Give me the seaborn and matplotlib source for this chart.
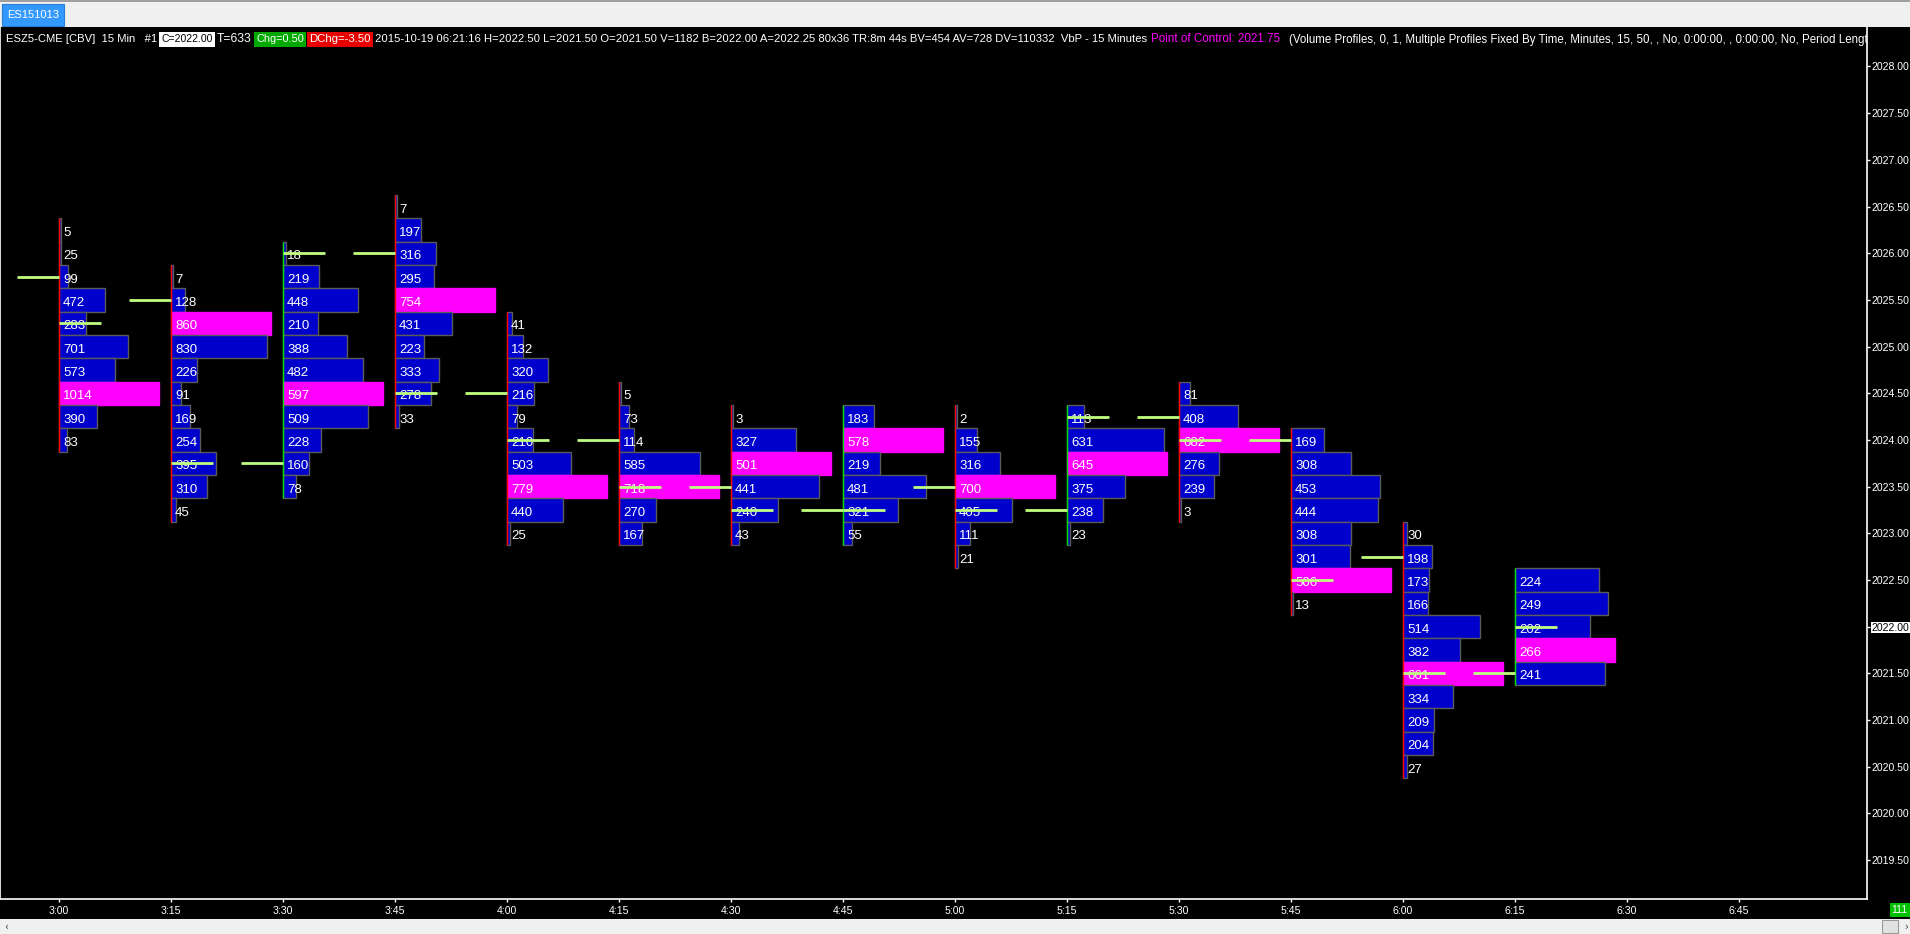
import matplotlib
matplotlib.use("Agg")
import numpy as np
import pandas as pd
import seaborn as sns
import matplotlib.pyplot as plt
from matplotlib.patches import Rectangle
from matplotlib import font_manager

# ---------------- data ----------------
profile_labels = ["3:00", "3:15", "3:30", "3:45", "4:00", "4:15", "4:30",
                  "4:45", "5:00", "5:15", "5:30", "5:45", "6:00", "6:15"]
profile_minutes = [0, 15, 30, 45, 60, 75, 90, 105, 120, 135, 150, 165, 180, 195]
top_prices = [2026.25, 2025.75, 2026.00, 2026.50, 2025.25, 2024.50, 2024.25,
              2024.25, 2024.25, 2024.25, 2024.50, 2024.00, 2023.00, 2022.50]
tick_size = 0.25

vol_0300 = [5, 25, 99, 472, 283, 701, 573, 1014, 390, 83]
vol_0315 = [7, 128, 860, 830, 226, 91, 169, 254, 395, 310, 45]
vol_0330 = [18, 219, 448, 210, 388, 482, 597, 509, 228, 160, 78]
vol_0345 = [7, 197, 316, 295, 754, 431, 223, 333, 278, 33]
vol_0400 = [41, 132, 320, 216, 79, 210, 503, 779, 440, 25]
vol_0415 = [5, 73, 114, 585, 718, 270, 167]
vol_0430 = [3, 327, 501, 441, 240, 43]
vol_0445 = [183, 578, 219, 481, 321, 55]
vol_0500 = [2, 155, 316, 700, 405, 111, 21]
vol_0515 = [113, 631, 645, 375, 238, 23]
vol_0530 = [81, 408, 682, 276, 239, 3]
vol_0545 = [169, 308, 453, 444, 308, 301, 506, 13]
vol_0600 = [30, 198, 173, 166, 514, 382, 661, 334, 209, 204, 27]
vol_0615 = [224, 249, 202, 266, 241]
profiles = [vol_0300, vol_0315, vol_0330, vol_0345, vol_0400, vol_0415, vol_0430,
            vol_0445, vol_0500, vol_0515, vol_0530, vol_0545, vol_0600, vol_0615]

open_prices = [2025.75, 2025.50, 2023.75, 2026.00, 2024.50, 2024.00, 2023.50,
               2023.25, 2023.50, 2023.25, 2024.25, 2024.00, 2022.75, 2021.50]
close_prices = [2025.25, 2023.75, 2026.00, 2024.50, 2024.00, 2023.50, 2023.25,
                2023.25, 2023.25, 2024.25, 2024.00, 2022.50, 2021.50, 2022.00]

x_tick_minutes = [0, 15, 30, 45, 60, 75, 90, 105, 120, 135, 150, 165, 180, 195, 210, 225]
x_tick_labels = ["3:00", "3:15", "3:30", "3:45", "4:00", "4:15", "4:30", "4:45",
                 "5:00", "5:15", "5:30", "5:45", "6:00", "6:15", "6:30", "6:45"]
price_tick_values = [2019.5, 2020.0, 2020.5, 2021.0, 2021.5, 2022.0, 2022.5, 2023.0,
                     2023.5, 2024.0, 2024.5, 2025.0, 2025.5, 2026.0, 2026.5, 2027.0,
                     2027.5, 2028.0]
current_price = 2022.00

header_texts = [
    "ESZ5-CME [CBV]  15 Min   #1",
    "C=2022.00",
    "T=633",
    "Chg=0.50",
    "DChg=-3.50",
    "2015-10-19 06:21:16 H=2022.50 L=2021.50 O=2021.50 V=1182 B=2022.00 A=2022.25 80x36 TR:8m 44s BV=454 AV=728 DV=110332  VbP - 15 Minutes",
    "Point of Control: 2021.75",
    "(Volume Profiles, 0, 1, Multiple Profiles Fixed By Time, Minutes, 15, 50, , No, 0:00:00, , 0:00:00, No, Period Lengt",
]

# ---------------- style ----------------
sns.set_theme(style="dark", rc={
    "axes.facecolor": "black", "figure.facecolor": "black",
    "axes.edgecolor": "white", "text.color": "white",
    "xtick.color": "white", "ytick.color": "white",
    "axes.grid": False,
})
available = {f.name for f in font_manager.fontManager.ttflist}
BASE = "Liberation Sans" if "Liberation Sans" in available else "DejaVu Sans"
NARROW = "Liberation Sans Narrow" if "Liberation Sans Narrow" in available else BASE
plt.rcParams["font.family"] = [BASE, "DejaVu Sans"]

BLUE = "#0000CC"
POC = "#FF00FF"
EDGE = "#5A5A5A"
LIME = "#C0FF80"
UP = "#00E000"
DOWN = "#FF0000"

W, H = 1910, 934
fig = plt.figure(figsize=(W / 100, H / 100), dpi=100)
fig.patch.set_facecolor("black")


def fx(px):
    return px / W


def fy(py):
    return 1 - py / H


AX_L, AX_R, AX_T, AX_B = 0, 1867, 27, 899
ax = fig.add_axes([fx(AX_L), fy(AX_B), fx(AX_R) - fx(AX_L), fy(AX_T) - fy(AX_B)])
ax.set_facecolor("black")

PX_PER_MIN = 112 / 15
X0_PX = 58.5
ax.set_xlim(-X0_PX / PX_PER_MIN, (AX_R - X0_PX) / PX_PER_MIN)
PX_PER_PRICE = 93.35
Y2028 = 66.5
ax.set_ylim(2028 - (AX_B - Y2028) / PX_PER_PRICE, 2028 + (Y2028 - AX_T) / PX_PER_PRICE)

MAXW = 100 / PX_PER_MIN
MINW = 2.2 / PX_PER_MIN
TXT_DX = 4.5 / PX_PER_MIN
TXT_DY = 6.0 / PX_PER_PRICE
TICK_LEN = 42 / PX_PER_MIN

for i, vols in enumerate(profiles):
    t = profile_minutes[i]
    vols = np.asarray(vols)
    prices = top_prices[i] - tick_size * np.arange(len(vols))
    vmax = vols.max()
    df = pd.DataFrame({"price": prices, "vol": vols})
    df["width"] = np.maximum(df["vol"] / vmax * MAXW, MINW)
    df["poc"] = df["vol"] == vmax
    colors = [POC if p else BLUE for p in df["poc"]]
    edges = [POC if p else EDGE for p in df["poc"]]
    ax.barh(df["price"], df["width"], left=t, height=tick_size, color=colors,
            edgecolor=edges, linewidth=1.0, zorder=2)
    # high-low line
    col = UP if close_prices[i] >= open_prices[i] else DOWN
    ax.plot([t, t], [prices[0] + tick_size / 2, prices[-1] - tick_size / 2],
            color=col, lw=1.0, zorder=3, solid_capstyle="butt")
    for p, v in zip(df["price"], df["vol"]):
        ax.text(t + TXT_DX, p - TXT_DY, f"{v}", ha="left", va="baseline",
                color="white", fontsize=9.5, zorder=4)
    # open / close ticks
    ax.plot([t - TICK_LEN, t], [open_prices[i]] * 2, color=LIME, lw=2.0,
            solid_capstyle="butt", zorder=5)
    ax.plot([t, t + TICK_LEN], [close_prices[i]] * 2, color=LIME, lw=2.0,
            solid_capstyle="butt", zorder=5)

# axes decoration
ax.set_yticks(price_tick_values, labels=[f"{v:.2f}" for v in price_tick_values])
ax.set_xticks(x_tick_minutes, labels=x_tick_labels)
ax.tick_params(axis="y", which="both", left=False, right=True, labelleft=False,
               labelright=True, colors="white", length=2.2, width=1, pad=1.2,
               labelsize=7.6, direction="out")
ax.tick_params(axis="x", which="both", bottom=True, top=False, colors="white",
               length=2.2, width=1, pad=2.5, labelsize=7.6, direction="out")
for lab in ax.get_yticklabels():
    if lab.get_text() == f"{current_price:.2f}":
        lab.set_color("black")
        lab.set_bbox(dict(facecolor="white", edgecolor="none", pad=0.6))
for s in ["left", "right", "bottom"]:
    ax.spines[s].set_visible(True)
    ax.spines[s].set_color("white")
    ax.spines[s].set_linewidth(1.2)
ax.spines["top"].set_visible(False)
ax.set_xlabel("")
ax.set_ylabel("")

# ---------------- window chrome ----------------
fig.patches.append(Rectangle((0, fy(27)), 1, fy(0) - fy(27), transform=fig.transFigure,
                             facecolor="#F0F0F0", edgecolor="none", zorder=1))
fig.patches.append(Rectangle((0, fy(1.5)), 1, fy(0) - fy(1.5), transform=fig.transFigure,
                             facecolor="#A0A0A0", edgecolor="none", zorder=1))
fig.patches.append(Rectangle((fx(2), fy(26)), fx(64) - fx(2), fy(4) - fy(26),
                             transform=fig.transFigure, facecolor="#3399FF",
                             edgecolor="#2A7FD4", lw=0.8, zorder=2))
fig.text(fx(33), fy(15.5), "ES151013", ha="center", va="center", color="white",
         fontsize=8, family=NARROW, zorder=3)

fig.patches.append(Rectangle((0, 0), 1, fy(919), transform=fig.transFigure,
                             facecolor="#F0F0F0", edgecolor="none", zorder=1))
fig.patches.append(Rectangle((fx(1882), fy(933)), fx(1898) - fx(1882), fy(920) - fy(933),
                             transform=fig.transFigure, facecolor="#E2E2E2",
                             edgecolor="#9A9A9A", lw=0.8, zorder=2))
fig.text(fx(4), fy(926.5), "‹", ha="left", va="center", color="#404040",
         fontsize=7, family="DejaVu Sans", zorder=3)
fig.text(fx(1904), fy(926.5), "›", ha="left", va="center", color="#404040",
         fontsize=7, family="DejaVu Sans", zorder=3)
fig.patches.append(Rectangle((fx(1890), fy(917)), fx(1910) - fx(1890), fy(903) - fy(917),
                             transform=fig.transFigure, facecolor="#00C000",
                             edgecolor="none", zorder=2))
fig.text(fx(1891), fy(910), "111", ha="left", va="center", color="white",
         fontsize=7.5, family=NARROW, zorder=3)

# ---------------- header line ----------------
header_layout = [(6, 158), (161, 213), (217, 252), (256, 304), (309, 371),
                 (375, 1145), (1151, 1281), (1289, 1865)]
header_fg = ["white", "black", "white", "white", "white", "white", "#FF00FF", "white"]
header_bg = [None, "white", None, "#00A800", "#E80000", None, None, None]
renderer = fig.canvas.get_renderer()
HY = 39.5
for txt, (x0, x1), fg, bg in zip(header_texts, header_layout, header_fg, header_bg):
    t = fig.text(fx(x0), fy(HY), txt, ha="left", va="center", color=fg,
                 fontsize=8, family=NARROW, zorder=4)
    bb = t.get_window_extent(renderer)
    t.set_fontsize(8 * (x1 - x0) / bb.width)
    if bg is not None:
        fig.patches.append(Rectangle((fx(x0 - 2), fy(47)), fx(x1 + 2) - fx(x0 - 2),
                                     fy(32) - fy(47), transform=fig.transFigure,
                                     facecolor=bg, edgecolor="none", zorder=3))

fig.savefig("out.png", dpi=100, facecolor="black")
